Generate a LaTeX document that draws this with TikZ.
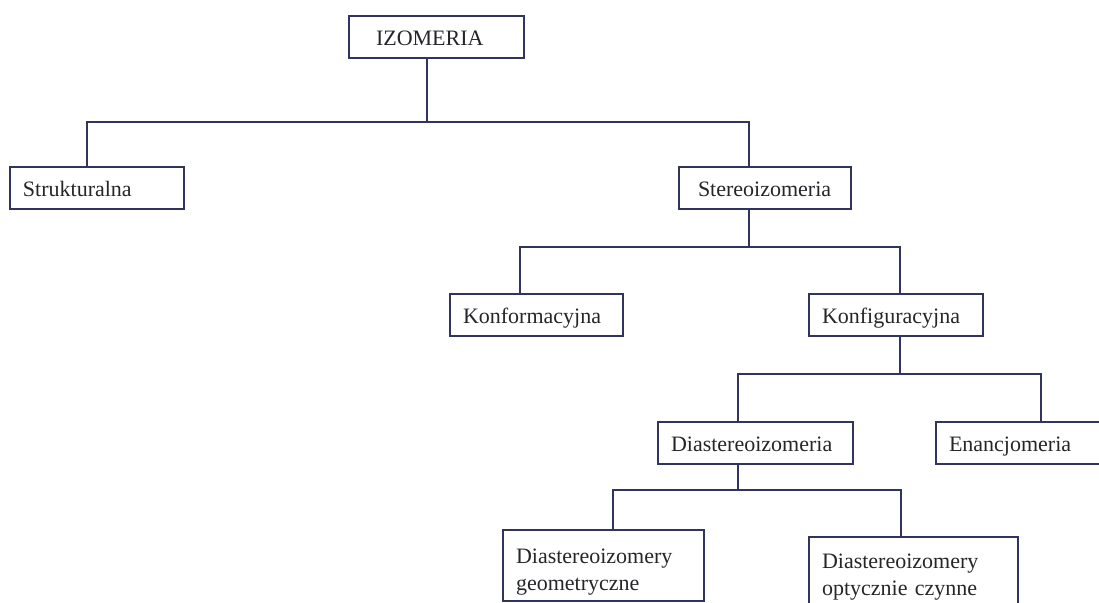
\documentclass[tikz,border=0pt]{standalone}
\usepackage{fontspec}
\setmainfont{Liberation Serif}
\usepackage{tikz}
\definecolor{ink}{RGB}{50,52,96}
\definecolor{txt}{RGB}{38,38,42}

\begin{document}
\begin{tikzpicture}[x=0.5pt,y=-0.5pt,
box/.style={draw=ink,line width=1pt,anchor=north west,align=left,inner xsep=6.5pt,inner ysep=0pt,text height=14.5pt,text depth=6.5pt,text=txt,font=\fontsize{11}{13.6}\selectfont},
link/.style={draw=ink,line width=1pt}]
\useasboundingbox (0,0) rectangle (1099,602);
\node[box,inner xsep=13.5pt,text width=60.5pt] (izomeria) at (348,15) {IZOMERIA};
\node[box,text width=74pt] (strukt) at (9,166) {Strukturalna};
\node[box,inner xsep=9.5pt,text width=67pt] (stereo) at (678,166) {Stereoizomeria};
\node[box,text width=73.5pt] (konform) at (449,293) {Konformacyjna};
\node[box,text width=74pt] (konfig) at (808,293) {Konfiguracyjna};
\node[box,text width=84.5pt] (diast) at (657,421) {Diastereoizomeria};
\node[box,text width=72pt] (enanc) at (935,421) {Enancjomeria};
\node[box,text width=87.5pt,text height=16.5pt,text depth=19pt] (geom) at (502,529) {Diastereoizomery\\geometryczne};
\node[box,text width=91.5pt,text height=15.5pt,text depth=19.5pt] (opt) at (808,536) {Diastereoizomery\\optycznie czynne};
% bus points
\coordinate (b1) at (427,122);
\coordinate (b2) at (749,247);
\coordinate (b3) at (900,374);
\coordinate (b4) at (738,490);
\draw[link] (izomeria.south -| b1) -- (b1);
\draw[link] ([xshift=-5pt]strukt.north) |- (b1) -| (stereo.north -| b2);
\draw[link] (stereo.south -| b2) -- (b2);
\draw[link] ([xshift=-8.25pt]konform.north) |- (b2) -| (konfig.north -| b3);
\draw[link] (konfig.south -| b3) -- (b3);
\draw[link] (diast.north -| b4) |- (b3) -| ([xshift=10pt]enanc.north);
\draw[link] (diast.south -| b4) -- (b4);
\draw[link] ([xshift=4.75pt]geom.north) |- (b4) -| ([xshift=-6.25pt]opt.north);
\end{tikzpicture}
\end{document}
